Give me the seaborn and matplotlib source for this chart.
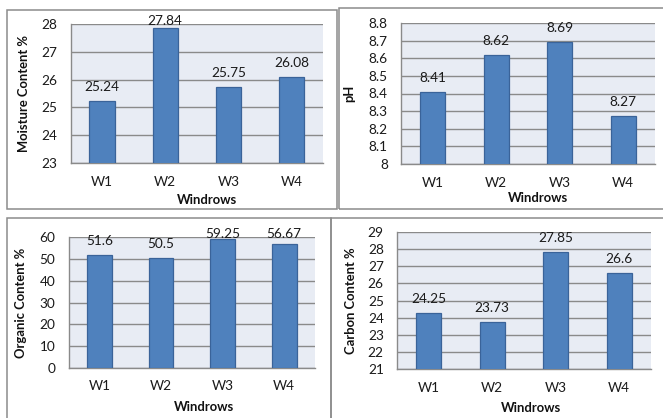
import matplotlib
matplotlib.use("Agg")
import matplotlib.pyplot as plt
import seaborn as sns
import pandas as pd
from matplotlib.patches import Rectangle

# ---- data -------------------------------------------------------------
windrows = ["W1", "W2", "W3", "W4"]
moisture = [25.24, 27.84, 25.75, 26.08]
ph = [8.41, 8.62, 8.69, 8.27]
organic = [51.6, 50.5, 59.25, 56.67]
carbon = [24.25, 23.73, 27.85, 26.6]

moisture_ticks = [23, 24, 25, 26, 27, 28]
ph_ticks = [8, 8.1, 8.2, 8.3, 8.4, 8.5, 8.6, 8.7, 8.8]
organic_ticks = [0, 10, 20, 30, 40, 50, 60]
carbon_ticks = [21, 22, 23, 24, 25, 26, 27, 28, 29]

# ---- style ------------------------------------------------------------
sns.set_style("white")
plt.rcParams["font.family"] = ["Lato", "DejaVu Sans"]

W, H = 663, 418
DPI = 100
BAR = "#4F81BD"
BAR_EDGE = "#3A6399"
PLOT_BG = "#E8ECF4"
GRID = "#8A8A8A"
FRAME = "#8C8C8C"
FS = 9.8
FS_LABEL = 9.4

fig = plt.figure(figsize=(W / DPI, H / DPI), dpi=DPI)
fig.patch.set_facecolor("white")


def px_axes(left, top, right, bottom):
    return fig.add_axes([left / W, 1 - bottom / H, (right - left) / W, (bottom - top) / H])


def frame(left, top, right, bottom):
    fig.patches.append(Rectangle((left / W, 1 - bottom / H), (right - left) / W,
                                 (bottom - top) / H, transform=fig.transFigure,
                                 fill=False, edgecolor=FRAME, linewidth=1.1))


panels = [
    dict(values=moisture, ticks=moisture_ticks, ylabel="Moisture Content %",
         box=(7, 10, 337, 209), ax=(70.5, 24, 323, 163),
         ylab_x=30, xlab=(207, 200)),
    dict(values=ph, ticks=ph_ticks, ylabel="pH",
         box=(339, 8, 670, 209), ax=(401, 23, 655, 164),
         ylab_x=355, xlab=(538, 198)),
    dict(values=organic, ticks=organic_ticks, ylabel="Organic Content %",
         box=(7, 218, 331, 425), ax=(68.5, 237, 315, 368),
         ylab_x=27, xlab=(204, 407)),
    dict(values=carbon, ticks=carbon_ticks, ylabel="Carbon Content %",
         box=(331, 218, 670, 425), ax=(397, 232, 651, 369),
         ylab_x=357, xlab=(531, 408)),
]

for p in panels:
    frame(*p["box"])
    l, t, r, b = p["ax"]
    ax = px_axes(l, t, r, b)
    ax.set_facecolor(PLOT_BG)
    df = pd.DataFrame({"Windrow": windrows, "Value": p["values"]})
    sns.barplot(data=df, x="Windrow", y="Value", ax=ax, width=0.4, color=BAR,
                saturation=1, edgecolor=BAR_EDGE, linewidth=0.9, zorder=3)

    ticks = p["ticks"]
    ax.set_ylim(ticks[0], ticks[-1])
    ax.set_xlim(-0.5, len(windrows) - 0.5)
    ax.set_yticks(ticks)
    ax.set_yticklabels([f"{v:g}" for v in ticks])
    ax.yaxis.grid(True, color=GRID, linewidth=1.0, zorder=1)
    ax.set_axisbelow(True)

    for side in ("top", "right"):
        ax.spines[side].set_visible(False)
    for side in ("left", "bottom"):
        ax.spines[side].set_color(GRID)
        ax.spines[side].set_linewidth(1.0)

    ax.tick_params(axis="y", direction="out", length=3.5, width=1.0, color=GRID,
                   pad=6.0, labelsize=FS, labelcolor="#1a1a1a")
    ax.tick_params(axis="x", which="major", length=0, pad=9, labelsize=FS,
                   labelcolor="#1a1a1a")
    ax.set_xticks([i - 0.5 for i in range(len(windrows) + 1)], minor=True)
    ax.tick_params(axis="x", which="minor", direction="out", length=3.5,
                   width=1.0, color=GRID)

    ax.set_ylabel(p["ylabel"], fontsize=FS_LABEL, fontweight="bold", color="#111111")
    ax.yaxis.set_label_coords((p["ylab_x"] - l) / (r - l), 0.5)
    ax.set_xlabel("Windrows", fontsize=FS_LABEL, fontweight="bold", color="#111111")
    xl, yl = p["xlab"]
    ax.xaxis.set_label_coords((xl - l) / (r - l), (b - yl) / (b - t))
    ax.xaxis.label.set_va("center")

    # value labels above bars, kept just inside the top of the plot area
    y0, y1 = ticks[0], ticks[-1]
    for i, v in enumerate(p["values"]):
        bar_top_px = b - (v - y0) / (y1 - y0) * (b - t)
        label_px = max(bar_top_px - 14, t - 3)
        off_pt = (bar_top_px - label_px) * 72 / DPI
        ax.annotate(f"{v:g}", xy=(i, v), xytext=(0, off_pt),
                    textcoords="offset points", ha="center", va="center",
                    fontsize=FS, color="#1a1a1a", zorder=5,
                    annotation_clip=False)

fig.savefig("out.png", dpi=DPI, facecolor="white")
